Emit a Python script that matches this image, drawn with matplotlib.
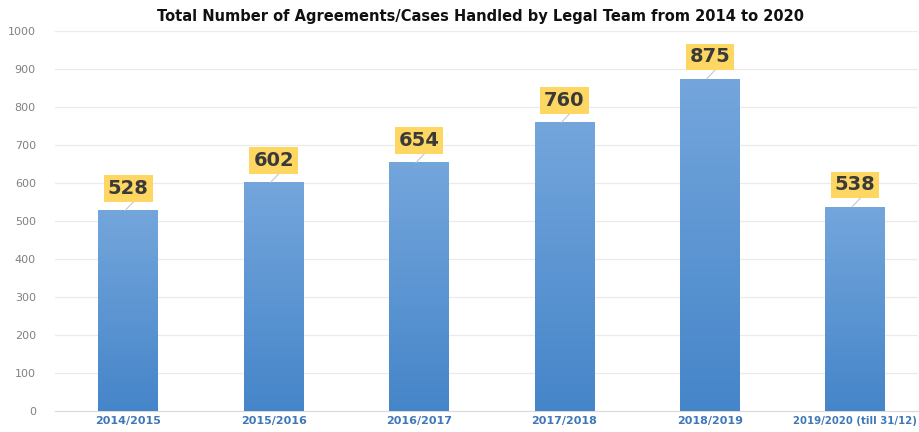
import matplotlib
matplotlib.use("Agg")
import matplotlib.pyplot as plt
import numpy as np

# Datos
periodos = ['2014/2015', '2015/2016', '2016/2017', '2017/2018', '2018/2019', '2019/2020 (till 31/12)']
casos = [528, 602, 654, 760, 875, 538]

fig = plt.figure(figsize=(9.2, 4.32), dpi=100)
ax = fig.add_axes([0.06, 0.049, 0.938, 0.879])

x = np.arange(len(periodos))
barras = ax.bar(x, casos, width=0.41, color='#5b95d4', zorder=2)

# Degradado vertical en cada barra
grad = np.linspace(0, 1, 256).reshape(-1, 1)
cmap = matplotlib.colors.LinearSegmentedColormap.from_list('azul', ['#4585c9', '#74a6dc'])
for b in barras:
    x0, y0 = b.get_x(), b.get_y()
    w, h = b.get_width(), b.get_height()
    im = ax.imshow(grad, cmap=cmap, aspect='auto', origin='lower',
                   extent=[x0, x0 + w, y0, y0 + h], zorder=3)
    im.set_clip_path(b)

# Etiquetas de valor
for xi, v in zip(x, casos):
    ax.plot([xi - 0.02, xi + 0.08], [v, v + 40], color='#c8c8c8', lw=0.8, zorder=4)
    ax.text(xi, v + 57, str(v), ha='center', va='center', fontsize=14, fontweight='bold',
            color='#3a3a3a', zorder=5,
            bbox=dict(boxstyle='square,pad=0.2', fc='#fdd761', ec='none'))

ax.set_xlim(-0.502, 5.433)
ax.set_ylim(0, 1000)
ax.set_yticks(range(0, 1001, 100))
ax.set_xticks(x)
ax.set_xticklabels(periodos, fontsize=8, fontweight='bold', color='#3f78b8')
ax.get_xticklabels()[-1].set_fontsize(7.3)
ax.tick_params(axis='y', labelsize=8, colors='#808080', length=0, pad=14)
ax.tick_params(axis='x', length=0, pad=4)
ax.grid(axis='y', color='#ebebeb', lw=0.9, zorder=0)
for s in ['top', 'right', 'left']:
    ax.spines[s].set_visible(False)
ax.spines['bottom'].set_color('#d9d9d9')

fig.text(0.522, 0.962, 'Total Number of Agreements/Cases Handled by Legal Team from 2014 to 2020',
         ha='center', va='center', fontsize=10.5, fontweight='bold', color='#111111')

plt.savefig('out.png', dpi=100)
